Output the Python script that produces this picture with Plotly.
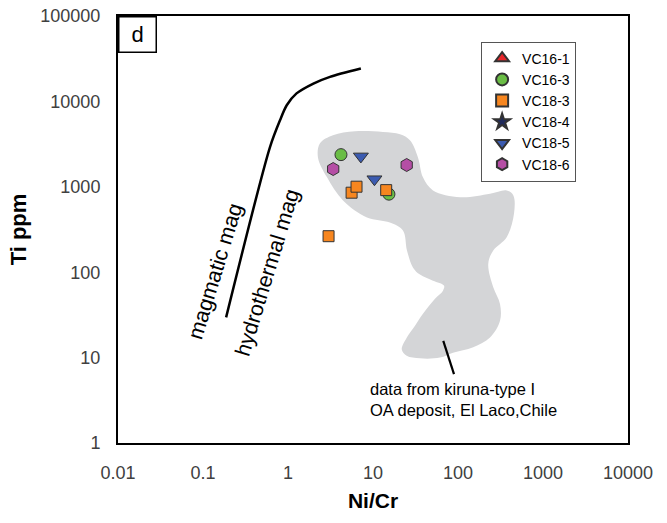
import plotly.graph_objects as go

FONT = "Liberation Sans, Arial, sans-serif"

# ---- data (Ni/Cr, Ti ppm) ----
vc16_1_x, vc16_1_y = [None], [None]
vc16_3_x = [4.2, 15.4]
vc16_3_y = [2380, 820]
vc18_3_x = [5.6, 6.4, 14.3, 3.0]
vc18_3_y = [853, 1003, 914, 264]
vc18_4_x, vc18_4_y = [None], [None]
vc18_5_x = [7.2, 10.4]
vc18_5_y = [2270, 1227]
vc18_6_x = [3.4, 24.9]
vc18_6_y = [1615, 1800]

# magmatic / hydrothermal discrimination curve
curve_x = [0.187, 0.614, 0.805, 0.966, 1.26, 1.99, 3.12, 7.2]
curve_y = [29.6, 2920, 6010, 9010, 12400, 16200, 19400, 24300]

# El Laco field outline
field_x = [2.38, 3.38, 6.14, 13.1, 20.8, 27.2, 33.8, 38.7, 50.8, 106, 238, 374,
           448, 456, 374, 260, 227, 260, 312, 312, 238, 151, 87.3, 61.4, 35.7,
           24.9, 21.8, 24.9, 31.2, 38.7, 53.6, 66.6, 68.4, 50.8, 35.7, 29.6,
           25.1, 22.5, 15.8, 8.5, 4.44, 2.88, 2.25]
field_y = [3230, 4010, 4470, 4390, 4120, 3510, 2210, 1290, 908, 757, 830, 908,
           793, 488, 257, 180, 125, 66.5, 42.5, 27.0, 17.2, 13.2, 11.4, 10.0, 9.8,
           10.5, 12.4, 17.1, 23.6, 32.6, 49.0, 60.8, 69.7, 79.6, 93.7, 113,
           180, 308, 382, 438, 692, 1290, 2210]

# leader line for the field label
leader_x = [67.1, 89.7]
leader_y = [15.7, 6.4]

x_ticks = [0.01, 0.1, 1, 10, 100, 1000, 10000]
x_ticklabels = ["0.01", "0.1", "1", "10", "100", "1000", "10000"]
y_ticks = [1, 10, 100, 1000, 10000, 100000]
y_ticklabels = ["1", "10", "100", "1000", "10000", "100000"]

fig = go.Figure()

fig.add_trace(go.Scatter(x=field_x + field_x[:1], y=field_y + field_y[:1],
                         mode="lines", fill="toself", fillcolor="#d4d5d7",
                         line=dict(width=0, shape="spline", smoothing=1.0, color="#d4d5d7"),
                         showlegend=False, hoverinfo="skip"))
fig.add_trace(go.Scatter(x=curve_x, y=curve_y, mode="lines",
                         line=dict(color="black", width=2.5, shape="spline", smoothing=0.8),
                         showlegend=False, hoverinfo="skip"))
fig.add_trace(go.Scatter(x=leader_x, y=leader_y, mode="lines",
                         line=dict(color="black", width=2.2),
                         showlegend=False, hoverinfo="skip"))

edge = dict(color="#333333", width=1)
series = [
    ("VC16-1", vc16_1_x, vc16_1_y, "triangle-up", "#e8262a", 13),
    ("VC16-3", vc16_3_x, vc16_3_y, "circle", "#6abd45", 12),
    ("VC18-3", vc18_3_x, vc18_3_y, "square", "#f7861f", 11),
    ("VC18-4", vc18_4_x, vc18_4_y, "star", "#1f2a5c", 13),
    ("VC18-5", vc18_5_x, vc18_5_y, "triangle-down", "#3b5bb0", 13),
    ("VC18-6", vc18_6_x, vc18_6_y, "hexagon", "#b54ea5", 13),
]
for name, xs, ys, sym, col, size in series:
    fig.add_trace(go.Scatter(x=xs, y=ys, mode="markers", name=name,
                             marker=dict(symbol=sym, color=col, size=size, line=edge)))

# labels
fig.add_annotation(xref="paper", yref="paper", x=0.0, y=1.0, xanchor="left", yanchor="top",
                   text="d", showarrow=False, font=dict(family=FONT, size=22, color="black"),
                   bordercolor="black", borderwidth=1.5, borderpad=3, bgcolor="white",
                   width=30, height=28)
fig.add_annotation(x=-0.851, y=2.011, xref="x", yref="y", text="magmatic mag",
                   showarrow=False, textangle=-73,
                   font=dict(family=FONT, size=21.5, color="black"))
fig.add_annotation(x=-0.244, y=1.992, xref="x", yref="y", text="hydrothermal mag",
                   showarrow=False, textangle=-73,
                   font=dict(family=FONT, size=21.5, color="black"))
fig.add_annotation(x=0.94, y=0.511, xref="x", yref="y", xanchor="left", yanchor="middle",
                   text="data from kiruna-type I<br>OA deposit, El Laco,Chile",
                   align="left", showarrow=False,
                   font=dict(family=FONT, size=16.5, color="black"))

axis_common = dict(type="log", showgrid=False, zeroline=False, showline=True,
                   linecolor="black", linewidth=2, mirror=True, automargin=False,
                   ticks="outside", tickcolor="rgba(0,0,0,0)",
                   tickfont=dict(family=FONT, size=18, color="#404040"))

fig.update_layout(
    width=667, height=523,
    margin=dict(l=118, r=39, t=16, b=80),
    paper_bgcolor="white", plot_bgcolor="white",
    showlegend=True,
    legend=dict(x=0.712, y=0.94, xanchor="left", yanchor="top",
                bordercolor="#555555", borderwidth=1, bgcolor="white",
                font=dict(family=FONT, size=14, color="black"),
                tracegroupgap=0, itemsizing="constant"),
    xaxis=dict(axis_common, range=[-2, 4], tickvals=x_ticks, ticktext=x_ticklabels,
               ticklen=12,
               title=dict(text="<b>Ni/Cr</b>", standoff=12,
                          font=dict(family=FONT, size=21, color="black"))),
    yaxis=dict(axis_common, range=[0, 5], tickvals=y_ticks, ticktext=y_ticklabels,
               ticklen=12,
               title=dict(text="<b>Ti ppm</b>", standoff=8,
                          font=dict(family=FONT, size=22, color="black"))),
)

fig.write_html("out.html", config={"displayModeBar": False},
               post_script="document.body.style.margin='0px';document.body.style.overflow='hidden';")
